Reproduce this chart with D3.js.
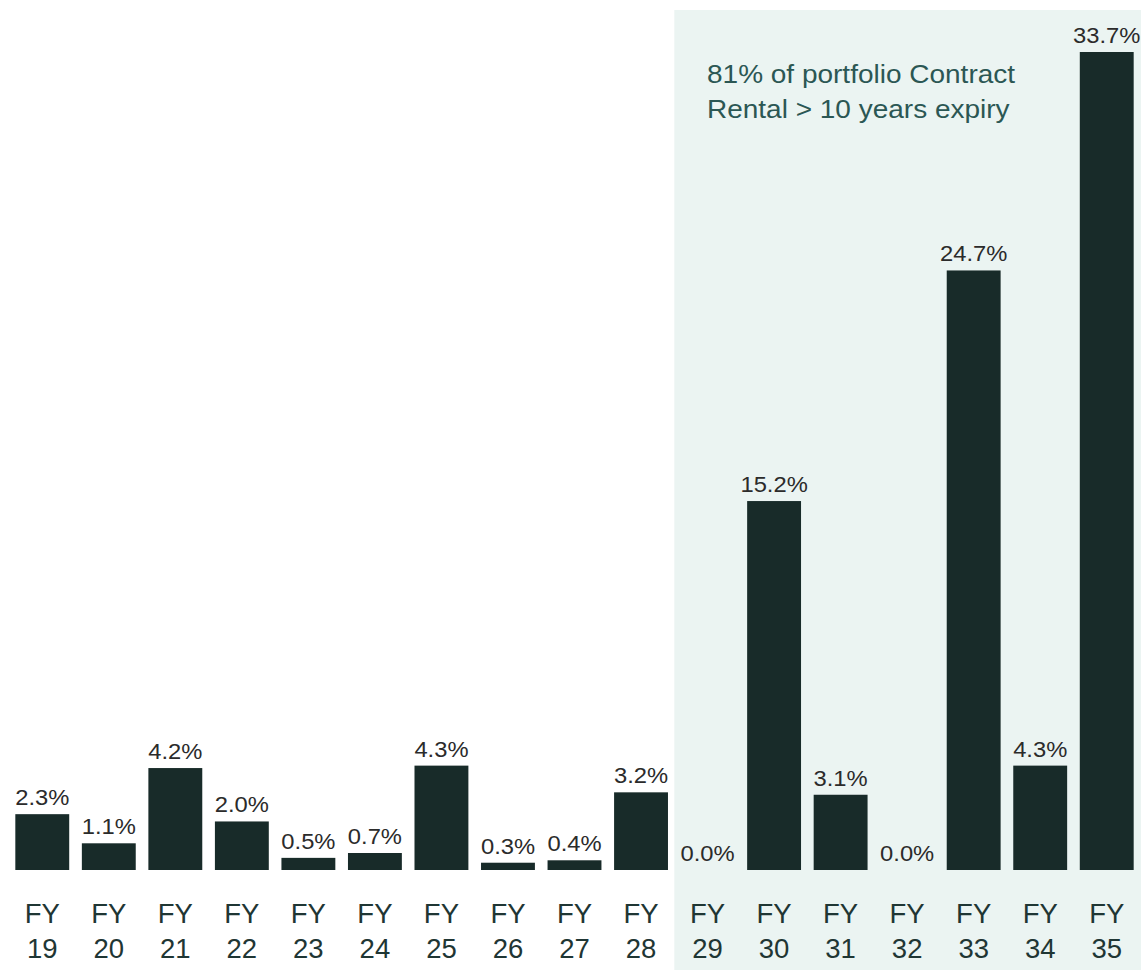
<!DOCTYPE html>
<html>
<head>
<meta charset="utf-8">
<script src="https://cdn.jsdelivr.net/npm/d3@7"></script>
<style>
  body { margin: 0; background: #fff; }
  svg { display: block; font-family: "Liberation Sans", Arial, sans-serif; }
</style>
</head>
<body>
<div class="bar-diagram"></div>
<script>
var years = ["19", "20", "21", "22", "23", "24", "25", "26", "27", "28", "29", "30", "31", "32", "33", "34", "35"];
var values = [2.3, 1.1, 4.2, 2.0, 0.5, 0.7, 4.3, 0.3, 0.4, 3.2, 0.0, 15.2, 3.1, 0.0, 24.7, 4.3, 33.7];
var shadeFrom = "29";
var noteLines = ["81% of portfolio Contract", "Rental > 10 years expiry"];

var svgWidth = 1141;
var svgHeight = 970;
var baseY = 870;

var svg = d3.select('.bar-diagram')
  .append('svg')
  .attr('width', svgWidth)
  .attr('height', svgHeight);

var xScale = d3.scaleBand()
  .domain(years)
  .range([9, 1140])
  .paddingInner(0.19)
  .paddingOuter(0.095);

var yScale = d3.scaleLinear()
  .domain([0, 33.7])
  .range([baseY, 52]);

// shaded block for > 10 years
var gap = xScale.step() * xScale.paddingInner() / 2;
svg.append('rect')
  .attr('x', xScale(shadeFrom) - gap)
  .attr('y', 10)
  .attr('width', svgWidth - (xScale(shadeFrom) - gap))
  .attr('height', svgHeight - 10)
  .attr('fill', '#ebf4f2');

svg.selectAll('rect.bar')
  .data(values)
  .enter()
  .append('rect')
  .attr('class', 'bar')
  .attr('x', function (d, i) { return xScale(years[i]); })
  .attr('y', function (d) { return yScale(d); })
  .attr('width', xScale.bandwidth())
  .attr('height', function (d) { return baseY - yScale(d); })
  .attr('fill', '#182b29');

// value labels (source text is a bit wide, so stretch it)
svg.selectAll('text.val')
  .data(values)
  .enter()
  .append('text')
  .attr('class', 'val')
  .attr('transform', function (d, i) {
    var cx = xScale(years[i]) + xScale.bandwidth() / 2;
    return 'translate(' + cx + ',' + (yScale(d) - 9) + ') scale(1.08,1)';
  })
  .attr('text-anchor', 'middle')
  .attr('font-size', 22)
  .attr('fill', '#2b2b2b')
  .text(function (d) { return d.toFixed(1) + '%'; });

// x axis labels, two lines
var xAxis = svg.append('g').attr('class', 'x axis');
years.forEach(function (y) {
  var t = xAxis.append('text')
    .attr('x', xScale(y) + xScale.bandwidth() / 2)
    .attr('text-anchor', 'middle')
    .attr('font-size', 27.5)
    .attr('fill', '#1f3634');
  t.append('tspan').attr('x', xScale(y) + xScale.bandwidth() / 2).attr('y', 923).text('FY');
  t.append('tspan').attr('x', xScale(y) + xScale.bandwidth() / 2).attr('y', 958).text(y);
});

// note
var note = svg.append('text')
  .attr('transform', 'translate(707,0) scale(1.12,1)')
  .attr('font-size', 25)
  .attr('fill', '#2b5754');
noteLines.forEach(function (l, i) {
  note.append('tspan').attr('x', 0).attr('y', 83 + i * 35).text(l);
});
</script>
</body>
</html>
